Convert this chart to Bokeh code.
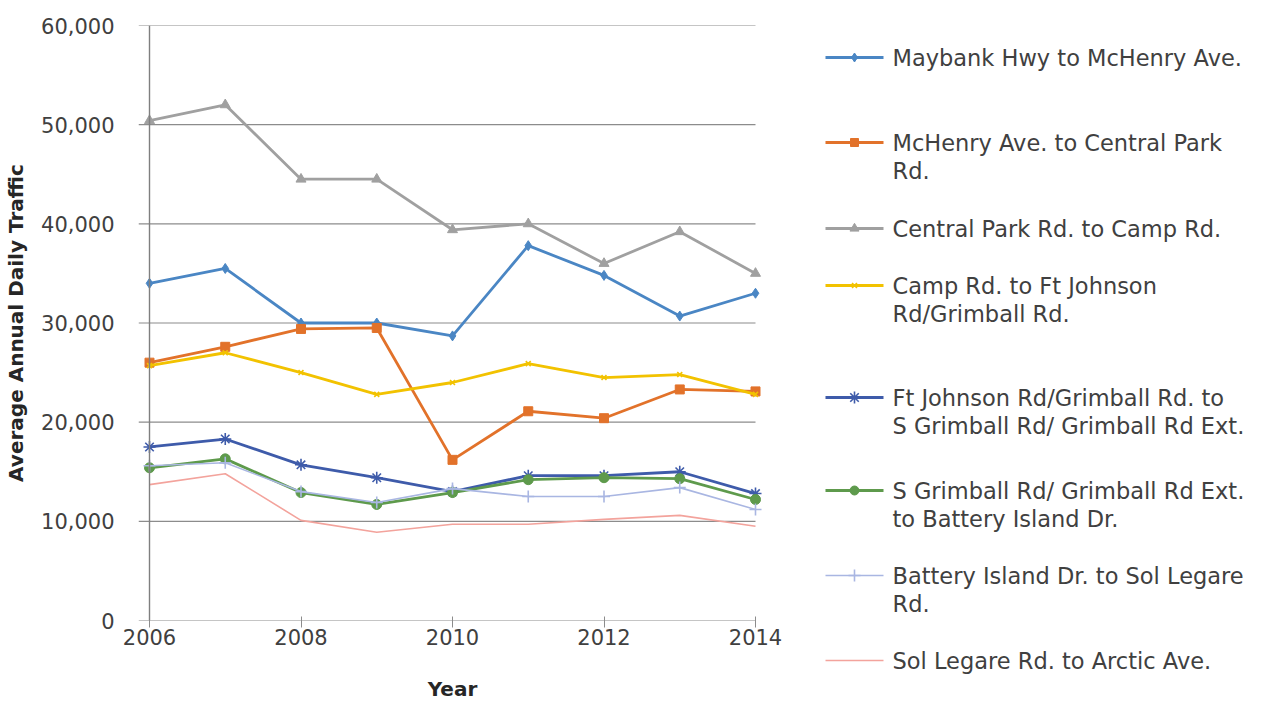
from bokeh.plotting import figure
from bokeh.layouts import row
from bokeh.models import Range1d, FixedTicker, NumeralTickFormatter, Span
from bokeh.core.properties import value
from bokeh.embed import file_html
from bokeh.resources import INLINE

# ---------------- data ----------------
years = [2006, 2007, 2008, 2009, 2010, 2011, 2012, 2013, 2014]
maybank = [34000, 35500, 30000, 30000, 28700, 37800, 34800, 30700, 33000]
mchenry = [26000, 27600, 29400, 29500, 16200, 21100, 20400, 23300, 23100]
central = [50400, 52000, 44500, 44500, 39400, 40000, 36000, 39200, 35000]
camp = [25700, 27000, 25000, 22800, 24000, 25900, 24500, 24800, 22800]
ftjohnson = [17500, 18300, 15700, 14400, 13000, 14600, 14600, 15000, 12800]
sgrimball = [15400, 16300, 12900, 11700, 12900, 14200, 14400, 14300, 12200]
battery = [15600, 15900, 13000, 11900, 13300, 12500, 12500, 13400, 11200]
sollegare = [13700, 14800, 10100, 8900, 9700, 9700, 10200, 10600, 9500]

series_names = [
    "Maybank Hwy to McHenry Ave.",
    "McHenry Ave. to Central Park\nRd.",
    "Central Park Rd. to Camp Rd.",
    "Camp Rd. to Ft Johnson\nRd/Grimball Rd.",
    "Ft Johnson Rd/Grimball Rd. to\nS Grimball Rd/ Grimball Rd Ext.",
    "S Grimball Rd/ Grimball Rd Ext.\nto Battery Island Dr.",
    "Battery Island Dr. to Sol Legare\nRd.",
    "Sol Legare Rd. to Arctic Ave.",
]
series_values = [maybank, mchenry, central, camp, ftjohnson, sgrimball, battery, sollegare]
y_ticks = [0, 10000, 20000, 30000, 40000, 50000, 60000]
x_ticks = [2006, 2008, 2010, 2012, 2014]

# ---------------- styles ----------------
colors = ["#4A86C4", "#E2722A", "#A0A0A0", "#F2C200", "#3E5BAA", "#5E9A4C", "#A9B6E2", "#F3A39C"]
markers = ["diamond", "square", "triangle", "x", "asterisk", "circle", "cross", None]
msizes = [10, 9, 10, 7, 12, 10, 12, 0]
lwidths = [2.8, 2.8, 2.8, 2.8, 2.8, 2.8, 1.6, 1.6]
FONT = "DejaVu Sans"
TXT = "#404040"
GRID = "#8C8C8C"

PX_PER_YEAR = 75.75
pad = 11 / PX_PER_YEAR
FRAME_TOP, FRAME_BOTTOM = 25, 620

p = figure(width=800, height=707,
           x_range=Range1d(years[0] - pad, years[-1] + pad),
           y_range=Range1d(y_ticks[0], y_ticks[-1]),
           output_backend="svg", toolbar_location=None,
           min_border_left=138, min_border_right=34,
           min_border_top=FRAME_TOP, min_border_bottom=707 - FRAME_BOTTOM)
p.frame_align = False
p.outline_line_color = None
p.background_fill_color = "white"
p.border_fill_color = "white"
p.xgrid.visible = False
p.ygrid.visible = False

# manual gridlines from the frame's left edge to the last year
gx0 = [years[0] - pad] * len(y_ticks)
gx1 = [years[-1]] * len(y_ticks)
p.segment(x0=gx0, y0=y_ticks, x1=gx1, y1=y_ticks, line_color=GRID, line_width=1.2)
# vertical axis line at first year
p.add_layout(Span(location=years[0], dimension="height", line_color="#7F7F7F", line_width=1.4))

for vals, col, mk, ms, lw in zip(series_values, colors, markers, msizes, lwidths):
    p.line(years, vals, line_color=col, line_width=lw)
    if mk is not None:
        if mk in ("x", "asterisk", "cross"):
            p.scatter(years, vals, marker=mk, size=ms, line_color=col, line_width=1.6)
        else:
            p.scatter(years, vals, marker=mk, size=ms, fill_color=col, line_color=col)

# axes
p.yaxis.ticker = FixedTicker(ticks=y_ticks)
p.yaxis.formatter = NumeralTickFormatter(format="0,0")
p.yaxis.axis_line_color = None
p.yaxis.major_tick_line_color = None
p.yaxis.minor_tick_line_color = None
p.yaxis.major_label_standoff = 18
p.yaxis.major_label_text_font = FONT
p.yaxis.major_label_text_font_size = "21px"
p.yaxis.major_label_text_color = TXT
p.yaxis.axis_label = "Average Annual Daily Traffic"
p.yaxis.axis_label_text_font = FONT
p.yaxis.axis_label_text_font_size = "20px"
p.yaxis.axis_label_text_font_style = "bold"
p.yaxis.axis_label_text_color = "#262626"
p.yaxis.axis_label_standoff = 10

p.xaxis.ticker = FixedTicker(ticks=x_ticks)
p.xaxis.axis_line_color = None
p.xaxis.major_tick_line_color = GRID
p.xaxis.major_tick_in = 4
p.xaxis.major_tick_out = 7
p.xaxis.minor_tick_line_color = None
p.xaxis.major_label_standoff = 1
p.xaxis.major_label_text_font = FONT
p.xaxis.major_label_text_font_size = "21px"
p.xaxis.major_label_text_color = TXT
p.xaxis.axis_label = "Year"
p.xaxis.axis_label_text_font = FONT
p.xaxis.axis_label_text_font_size = "20px"
p.xaxis.axis_label_text_font_style = "bold"
p.xaxis.axis_label_text_color = "#262626"
p.xaxis.axis_label_standoff = 29

# ---------------- legend panel (page pixel coordinates) ----------------
leg = figure(width=474, height=707, x_range=Range1d(800, 1274),
             y_range=Range1d(707, 0),
             output_backend="svg", toolbar_location=None,
             min_border_left=0, min_border_right=0,
             min_border_top=0, min_border_bottom=0)
leg.frame_align = False
leg.axis.visible = False
leg.grid.visible = False
leg.outline_line_color = None

entry_y = [57, 142, 228, 285, 397, 490, 575, 660]
line_x0, line_x1, text_x, line_gap = 825, 883, 892, 28.5

for name, col, mk, ms, lw, ey in zip(series_names, colors, markers, msizes, lwidths, entry_y):
    leg.line([line_x0, line_x1], [ey, ey], line_color=col, line_width=lw)
    if mk is not None:
        cx = (line_x0 + line_x1) / 2
        if mk in ("x", "asterisk", "cross"):
            leg.scatter([cx], [ey], marker=mk, size=ms, line_color=col, line_width=1.6)
        else:
            leg.scatter([cx], [ey], marker=mk, size=ms - 1, fill_color=col, line_color=col)
    lines = name.split("\n")
    leg.text(x=[text_x] * len(lines), y=[ey + i * line_gap for i in range(len(lines))],
             text=lines, text_font=value(FONT), text_font_size="22.5px",
             text_color=TXT, text_baseline="middle", text_align="left")

layout = row(p, leg, spacing=0)
open("out.html", "w").write(file_html(layout, INLINE))
